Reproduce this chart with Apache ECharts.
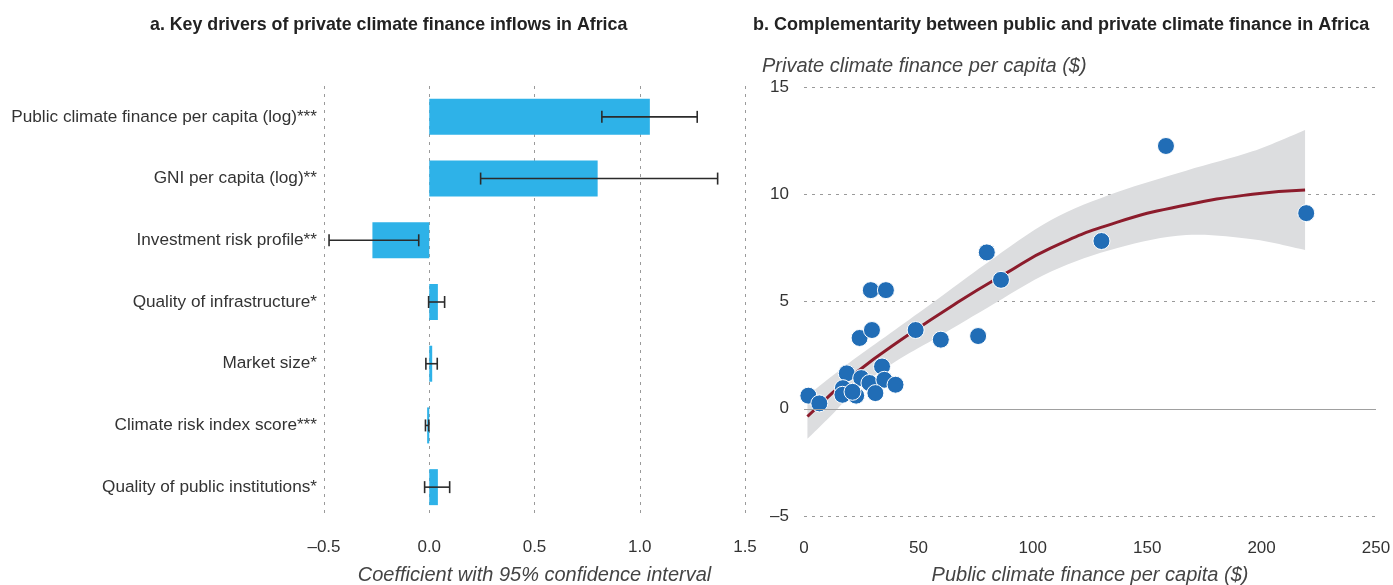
<!DOCTYPE html>
<html><head><meta charset="utf-8">
<script src="https://cdn.jsdelivr.net/npm/echarts@6/dist/echarts.min.js"></script>
<style>html,body{margin:0;padding:0;background:#fff}#c{width:1393px;height:585px}</style>
</head><body><div id="c"></div>
<script>
// ---- Panel a data ----
const drivers = [
  'Public climate finance per capita (log)***',
  'GNI per capita (log)**',
  'Investment risk profile**',
  'Quality of infrastructure*',
  'Market size*',
  'Climate risk index score***',
  'Quality of public institutions*'
];
const coef   = [1.048, 0.800, -0.270, 0.041, 0.014, -0.010, 0.041];
const ciLow  = [0.820, 0.244, -0.476, -0.003, -0.016, -0.018, -0.022];
const ciHigh = [1.273, 1.370, -0.050, 0.073, 0.038, -0.002, 0.097];

// ---- Panel b data ----
const publicFinance  = [1.9, 6.7, 24.3, 29.7, 48.8, 59.8, 76.1, 18.7, 34.1, 25.0, 28.6, 35.1, 40.0, 17.0, 16.8, 22.8, 21.2, 31.2, 29.2, 35.8, 79.9, 86.1, 130.0, 158.2, 219.5];
const privateFinance = [0.61, 0.25, 3.30, 3.67, 3.67, 3.22, 3.39, 1.65, 1.97, 1.43, 1.20, 1.35, 1.12, 0.96, 0.65, 0.61, 0.79, 0.73, 5.53, 5.53, 7.29, 6.01, 7.82, 12.25, 9.12];
const fitX = [1.5, 23, 45, 67, 88, 108, 137, 167, 196, 219];
const fitY = [-0.36, 1.70, 3.40, 4.95, 6.30, 7.50, 8.70, 9.50, 10.00, 10.20];
const bandX    = [1.5, 12, 23, 40, 57, 80, 108, 137, 167, 196, 219];
const bandLow  = [-1.40, -0.30, 0.90, 2.20, 3.25, 4.70, 6.40, 7.50, 8.10, 7.90, 7.40];
const bandHigh = [0.60, 1.50, 2.40, 3.70, 5.00, 6.80, 8.80, 10.10, 11.10, 12.00, 13.00];

const FONT = "'Liberation Sans', Arial, sans-serif";
const dash = n => n.toString().replace('-', '\u2013');

// Catmull-Rom spline through pixel points -> SVG cubic segments
function splineSegs(pts) {
  let d = '';
  const n = pts.length;
  for (let i = 0; i < n - 1; i++) {
    const p0 = pts[Math.max(0, i - 1)], p1 = pts[i], p2 = pts[i + 1], p3 = pts[Math.min(n - 1, i + 2)];
    const c1 = [p1[0] + (p2[0] - p0[0]) / 6, p1[1] + (p2[1] - p0[1]) / 6];
    const c2 = [p2[0] - (p3[0] - p1[0]) / 6, p2[1] - (p3[1] - p1[1]) / 6];
    d += ' C' + c1[0] + ' ' + c1[1] + ' ' + c2[0] + ' ' + c2[1] + ' ' + p2[0] + ' ' + p2[1];
  }
  return d;
}

const chart = echarts.init(document.getElementById('c'), null, {renderer: 'canvas'});

const option = {
  animation: false,
  backgroundColor: '#fff',
  textStyle: {fontFamily: FONT},
  title: [
    {text: 'a. Key drivers of private climate finance inflows in Africa', left: 145, top: 11,
     textStyle: {fontFamily: FONT, fontSize: 17.8, fontWeight: 'bold', color: '#222'}},
    {text: 'b. Complementarity between public and private climate finance in Africa', left: 748, top: 11,
     textStyle: {fontFamily: FONT, fontSize: 18, fontWeight: 'bold', color: '#222'}},
    {text: 'Private climate finance per capita ($)', left: 757, top: 51,
     textStyle: {fontFamily: FONT, fontSize: 20, fontStyle: 'italic', fontWeight: 'normal', color: '#444'}}
  ],
  grid: [
    {left: 324, right: 648, top: 86, bottom: 67, outerBoundsMode: 'none', containLabel: false},
    {left: 804, right: 17, top: 87, bottom: 69, outerBoundsMode: 'none', containLabel: false}
  ],
  xAxis: [
    {gridIndex: 0, type: 'value', min: -0.5, max: 1.5, interval: 0.5,
     axisLine: {show: false}, axisTick: {show: false},
     axisLabel: {margin: 21, fontSize: 17, color: '#333', formatter: v => dash(v.toFixed(1))},
     splitLine: {show: true, lineStyle: {type: [3, 5], color: '#9a9a9a', width: 1}},
     name: 'Coefficient with 95% confidence interval', nameLocation: 'middle', nameGap: 47,
     nameTextStyle: {fontSize: 20, fontStyle: 'italic', color: '#444', fontFamily: FONT}},
    {gridIndex: 1, type: 'value', min: 0, max: 250, interval: 50,
     axisLine: {show: false}, axisTick: {show: false},
     axisLabel: {margin: 24, fontSize: 17, color: '#333', formatter: v => dash(v)},
     splitLine: {show: false},
     name: 'Public climate finance per capita ($)', nameLocation: 'middle', nameGap: 49,
     nameTextStyle: {fontSize: 20, fontStyle: 'italic', color: '#444', fontFamily: FONT}}
  ],
  yAxis: [
    {gridIndex: 0, type: 'category', data: drivers, inverse: true,
     axisLine: {show: false}, axisTick: {show: false},
     axisLabel: {margin: 7, fontSize: 17.2, color: '#333'},
     splitLine: {show: false}},
    {gridIndex: 1, type: 'value', min: -5, max: 15, interval: 5,
     axisLine: {show: false}, axisTick: {show: false},
     axisLabel: {margin: 15, fontSize: 17, color: '#333', formatter: v => dash(v)},
     splitLine: {show: true, lineStyle: {type: [3, 5], color: '#9a9a9a', width: 1}}}
  ],
  series: [
    {type: 'bar', xAxisIndex: 0, yAxisIndex: 0, data: coef, barWidth: 36,
     itemStyle: {color: '#2eb2e8'}, silent: true},
    {type: 'custom', xAxisIndex: 0, yAxisIndex: 0,
     data: drivers.map((d, i) => [i, ciLow[i], ciHigh[i]]),
     encode: {x: [1, 2], y: 0},
     renderItem: function (params, api) {
       const c = api.value(0);
       const p1 = api.coord([api.value(1), c]);
       const p2 = api.coord([api.value(2), c]);
       const h = 6;
       const st = {stroke: '#2b2b2b', lineWidth: 1.6};
       return {type: 'group', children: [
         {type: 'line', shape: {x1: p1[0], y1: p1[1], x2: p2[0], y2: p2[1]}, style: st},
         {type: 'line', shape: {x1: p1[0], y1: p1[1] - h, x2: p1[0], y2: p1[1] + h}, style: st},
         {type: 'line', shape: {x1: p2[0], y1: p2[1] - h, x2: p2[0], y2: p2[1] + h}, style: st}
       ]};
     }, silent: true, z: 5},
    // confidence band
    {type: 'custom', xAxisIndex: 1, yAxisIndex: 1, data: [[bandX[0], bandLow[0]]],
     encode: {x: 0, y: 1}, clip: false,
     renderItem: function (params, api) {
       const up = bandX.map((x, i) => api.coord([x, bandHigh[i]]));
       const lo = bandX.map((x, i) => api.coord([x, bandLow[i]])).reverse();
       const d = 'M' + up[0][0] + ' ' + up[0][1] + splineSegs(up) +
                 ' L' + lo[0][0] + ' ' + lo[0][1] + splineSegs(lo) + ' Z';
       return {type: 'path', shape: {pathData: d}, style: {fill: '#dcdddf', stroke: null}};
     }, silent: true, z: 1},
    // fitted curve
    {type: 'line', xAxisIndex: 1, yAxisIndex: 1,
     data: fitX.map((x, i) => [x, fitY[i]]), smooth: 0.5, symbol: 'none',
     lineStyle: {color: '#8c1c2c', width: 3}, silent: true, z: 3,
     markLine: {silent: true, symbol: 'none', label: {show: false},
       lineStyle: {type: 'solid', color: '#a0a0a0', width: 1},
       data: [{yAxis: 0}]}},
    // scatter points
    {type: 'scatter', xAxisIndex: 1, yAxisIndex: 1,
     data: publicFinance.map((x, i) => [x, privateFinance[i]]),
     symbolSize: 17, itemStyle: {color: '#216db6', borderColor: '#fff', borderWidth: 1, opacity: 1},
     silent: true, z: 4}
  ]
};
chart.setOption(option);
</script>
</body></html>
